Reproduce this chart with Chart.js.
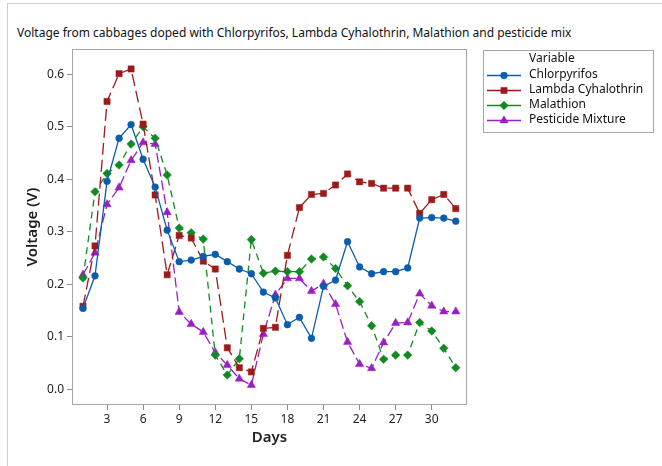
<!DOCTYPE html>
<html><head><meta charset="utf-8">
<script src="https://cdn.jsdelivr.net/npm/chart.js@4"></script>
<style>
html,body{margin:0;padding:0;background:#fff;overflow:hidden;}
#wrap{position:relative;width:662px;height:466px;overflow:hidden;}
#frame{position:absolute;left:7px;top:3px;width:700px;height:520px;border:1px solid #cfcfcf;}
#title{position:absolute;left:17px;top:24px;font:12px "Noto Sans",sans-serif;color:#111;white-space:nowrap;}
canvas{position:absolute;left:0;top:0;}
</style></head>
<body>
<div id="wrap"><div id="frame"></div><div id="title">Voltage from cabbages doped with Chlorpyrifos, Lambda Cyhalothrin, Malathion and pesticide mix</div><canvas id="c" width="662" height="466"></canvas></div>
<script>
const days = [1,2,3,4,5,6,7,8,9,10,11,12,13,14,15,16,17,18,19,20,21,22,23,24,25,26,27,28,29,30,31,32];
const xTickLabels = [3,6,9,12,15,18,21,24,27,30];
const yTickLabels = [0.0,0.1,0.2,0.3,0.4,0.5,0.6];
const seriesNames = ['Chlorpyrifos','Lambda Cyhalothrin','Malathion','Pesticide Mixture'];
const chlorpyrifos = [0.154,0.216,0.396,0.478,0.504,0.438,0.385,0.303,0.243,0.246,0.253,0.257,0.243,0.229,0.220,0.185,0.174,0.123,0.137,0.097,0.196,0.208,0.281,0.233,0.220,0.224,0.224,0.231,0.326,0.327,0.326,0.320];
const lambdaCyhalothrin = [0.158,0.273,0.548,0.601,0.610,0.505,0.370,0.218,0.293,0.288,0.244,0.229,0.079,0.041,0.033,0.116,0.118,0.255,0.346,0.371,0.373,0.389,0.410,0.395,0.392,0.383,0.383,0.383,0.335,0.361,0.371,0.344];
const malathion = [0.212,0.376,0.411,0.427,0.467,0.500,0.478,0.408,0.307,0.298,0.286,0.065,0.027,0.058,0.285,0.221,0.225,0.224,0.224,0.248,0.252,0.230,0.197,0.167,0.121,0.057,0.065,0.065,0.127,0.111,0.078,0.041];
const pesticideMixture = [0.218,0.260,0.352,0.384,0.436,0.470,0.467,0.337,0.147,0.124,0.109,0.070,0.046,0.020,0.008,0.105,0.180,0.211,0.211,0.187,0.201,0.162,0.090,0.048,0.040,0.089,0.126,0.127,0.182,0.159,0.148,0.148];

const seriesValues = [chlorpyrifos, lambdaCyhalothrin, malathion, pesticideMixture];
const styles = [
  {color:'#0b5cad', dash:[], style:'circle', radius:3.4},
  {color:'#9c1a1a', dash:[12,5], style:'rect', radius:4.4},
  {color:'#118a22', dash:[7,5], style:'rectRot', radius:4.3},
  {color:'#9a1fc4', dash:[10,4], style:'triangle', radius:4.8}
];

const datasets = seriesValues.map((vals,i)=>({
  label: seriesNames[i],
  data: days.map((d,k)=>({x:d,y:vals[k]})),
  borderColor: styles[i].color,
  backgroundColor: styles[i].color,
  borderWidth: 1.3,
  borderDash: styles[i].dash,
  pointStyle: styles[i].style,
  pointRadius: styles[i].radius,
  pointBorderWidth: 0.5,
  tension: 0
}));

function marker(ctx, style, r, x, y, color){
  ctx.save();
  ctx.fillStyle=color; ctx.strokeStyle=color; ctx.lineWidth=0.5; ctx.setLineDash([]);
  ctx.beginPath();
  if(style==='circle'){ ctx.arc(x,y,r,0,Math.PI*2); }
  else if(style==='rect'){ const s=r*Math.SQRT1_2; ctx.rect(x-s,y-s,2*s,2*s); }
  else if(style==='rectRot'){ ctx.moveTo(x,y-r); ctx.lineTo(x+r,y); ctx.lineTo(x,y+r); ctx.lineTo(x-r,y); ctx.closePath(); }
  else { const a=Math.PI*2/3; for(let k=0;k<3;k++){ const ang=k*a; const px=x+Math.sin(ang)*r, py=y-Math.cos(ang)*r; if(k===0) ctx.moveTo(px,py); else ctx.lineTo(px,py);} ctx.closePath(); }
  ctx.fill(); ctx.stroke(); ctx.restore();
}

const framePlugin = {
  id:'frame',
  beforeDatasetsDraw(chart){
    const a=chart.chartArea, ctx=chart.ctx;
    ctx.save(); ctx.strokeStyle='#a6a6a6'; ctx.lineWidth=1;
    ctx.strokeRect(Math.round(a.left)-0.5, Math.round(a.top)+0.5, Math.round(a.right-a.left)+1, Math.round(a.bottom-a.top)-1);
    ctx.restore();
  }
};

const legendPlugin = {
  id:'customLegend',
  afterDraw(chart){
    const ctx=chart.ctx;
    ctx.save();
    ctx.strokeStyle='#a6a6a6'; ctx.lineWidth=1;
    ctx.strokeRect(483.5,50.5,170,82);
    ctx.font='12px "Noto Sans", sans-serif'; ctx.fillStyle='#111'; ctx.textBaseline='middle'; ctx.textAlign='left';
    ctx.fillText('Variable',529,59);
    chart.data.datasets.forEach((ds,i)=>{
      const y=75+15*i;
      ctx.save(); ctx.strokeStyle=ds.borderColor; ctx.lineWidth=1.3; ctx.setLineDash([]);
      ctx.beginPath(); ctx.moveTo(487,y+0.5); ctx.lineTo(521,y+0.5); ctx.stroke(); ctx.restore();
      marker(ctx, ds.pointStyle, ds.pointRadius, 504, y+0.5, ds.backgroundColor);
      ctx.fillStyle='#111';
      ctx.fillText(ds.label,529,y);
    });
    ctx.restore();
  }
};

const tickFont = {family:'"Noto Sans", sans-serif', size:12};
new Chart(document.getElementById('c'), {
  type:'line',
  data:{datasets},
  plugins:[framePlugin, legendPlugin],
  options:{
    responsive:false, animation:false, devicePixelRatio:1,
    layout:{padding:{left:0,right:196,top:49,bottom:0}},
    plugins:{legend:{display:false}, tooltip:{enabled:false}, title:{display:false}},
    scales:{
      x:{
        type:'linear', min:0.17, max:32.85,
        afterBuildTicks(s){ s.ticks = xTickLabels.map(v=>({value:v})); },
        afterFit(s){ s.height = 61; },
        grid:{drawOnChartArea:false, drawTicks:true, tickLength:5, color:'#8c8c8c'},
        border:{display:false},
        ticks:{font:tickFont, color:'#222', padding:2, maxRotation:0, autoSkip:false, callback:v=>String(v)},
        title:{display:true, text:'Days', color:'#222', font:{family:'"Noto Sans", sans-serif', size:15, weight:'600'}, padding:{top:0,bottom:19}}
      },
      y:{
        type:'linear', min:-0.030, max:0.648,
        afterBuildTicks(s){ s.ticks = yTickLabels.map(v=>({value:v})); },
        afterFit(s){ s.width = 73; },
        grid:{drawOnChartArea:false, drawTicks:true, tickLength:6, color:'#8c8c8c'},
        border:{display:false},
        ticks:{font:tickFont, color:'#222', padding:3, autoSkip:false, callback:v=>Number(v).toFixed(1)},
        title:{display:true, text:'Voltage (V)', color:'#222', font:{family:'"Noto Sans", sans-serif', size:15, weight:'600'}, padding:{top:24,bottom:0}}
      }
    }
  }
});
</script>
</body></html>
